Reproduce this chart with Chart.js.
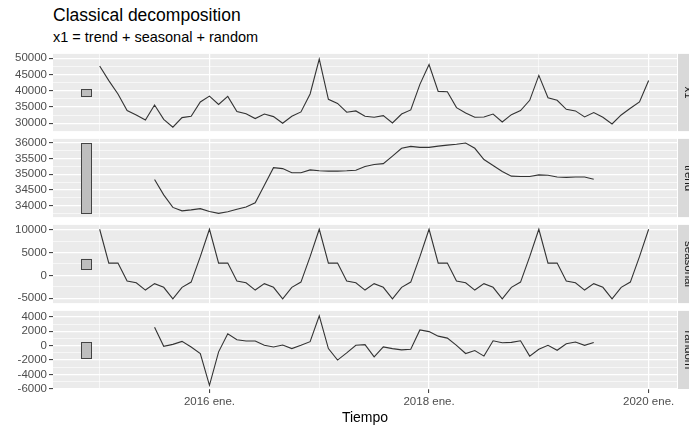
<!DOCTYPE html>
<html>
<head>
<meta charset="utf-8">
<script src="https://cdn.jsdelivr.net/npm/chart.js@4.4.1/dist/chart.umd.min.js"></script>
<style>
    body { margin: 0; width: 689px; height: 427px; background: #fff; position: relative; overflow: hidden;
           font-family: "Liberation Sans", Arial, sans-serif; }
    .txt { position: absolute; left: 53px; white-space: nowrap; color: #000; }
    #title { top: 5px; font-size: 17.5px; }
    #subtitle { top: 29px; font-size: 14.5px; }
    canvas { position: absolute; left: 0; }
</style>
</head>
<body>
<div id="title" class="txt">Classical decomposition</div>
<div id="subtitle" class="txt">x1 = trend + seasonal + random</div>
<canvas id="c-x1"></canvas>
<canvas id="c-trend"></canvas>
<canvas id="c-seasonal"></canvas>
<canvas id="c-random"></canvas>
<script>
// =============================================
// Classical decomposition — monthly series, Jan 2015 .. Jan 2020
// x value = months since 2015 ene.
// =============================================

const x1Values = [
    47600, 43100, 39000, 33900, 32550, 31000, 35600, 31200, 28800, 31750, 32150, 36550,
    38350, 35800, 38250, 33600, 32950, 31450, 32850, 32050, 30000, 32150, 33500, 39000,
    49700, 37350, 36100, 33400, 33800, 32150, 31850, 32350, 30100, 32850, 34100, 41950,
    48050, 39800, 39700, 34800, 33150, 31850, 31950, 32850, 30400, 32650, 33900, 37050,
    44700, 37850, 37050, 34300, 33800, 31950, 33300, 31850, 29800, 32550, 34600, 36550,
    43150,
];

const trendValues = [
    null, null, null, null, null, null, 34830, 34340, 33940, 33830, 33860, 33900,
    33810, 33750, 33800, 33880, 33950, 34090, 34650, 35210, 35180, 35050, 35050, 35140,
    35110, 35100, 35100, 35110, 35130, 35250, 35310, 35340, 35580, 35830, 35890, 35860,
    35860, 35900, 35930, 35960, 36000, 35830, 35470, 35280, 35090, 34940, 34930, 34930,
    34980, 34970, 34910, 34900, 34910, 34910, 34840, null, null, null, null, null,
    null,
];

const seasonalValues = [
    10100, 2700, 2700, -1200, -1600, -3200, -1800, -2600, -5100, -2600, -1450, 4100,
    10100, 2700, 2700, -1200, -1600, -3200, -1800, -2600, -5100, -2600, -1450, 4100,
    10100, 2700, 2700, -1200, -1600, -3200, -1800, -2600, -5100, -2600, -1450, 4100,
    10100, 2700, 2700, -1200, -1600, -3200, -1800, -2600, -5100, -2600, -1450, 4100,
    10100, 2700, 2700, -1200, -1600, -3200, -1800, -2600, -5100, -2600, -1450, 4100,
    10100,
];

const randomValues = [
    null, null, null, null, null, null, 2550, -90, 180, 590, -180, -1090,
    -5500, -860, 1640, 820, 640, 640, 50, -180, 90, -410, 50, 550,
    4140, -410, -2000, -1000, 50, 140, -1550, -180, -410, -590, -500, 2180,
    1950, 1320, 1050, 50, -1090, -680, -1450, 680, 410, 450, 680, -1450,
    -500, 50, -640, 270, 500, 50, 450, null, null, null, null, null,
    null,
];

// y axis ticks (major labelled, minor halfway between)
const x1Ticks = [30000, 35000, 40000, 45000, 50000];
const trendTicks = [34000, 34500, 35000, 35500, 36000];
const seasonalTicks = [-5000, 0, 5000, 10000];
const randomTicks = [-6000, -4000, -2000, 0, 2000, 4000];

// x axis ticks
const xTickValues = [0, 12, 24, 36, 48, 60];
const xTickLabels = ["", "2016 ene.", "", "2018 ene.", "", "2020 ene."];

// range bars drawn left of each panel (same height = trend range)
const barXRange = [-2.0, -0.9];

const X_MIN = -5.1, X_MAX = 63.1;
const CANVAS_W = 689;
const PAD = 8;
const TICK_FONT = { family: "'Liberation Sans', Arial, sans-serif", size: 11.5 };
const TICK_COLOR = "#4D4D4D";

const panels = [
    { id: "c-x1", label: "x1", values: x1Values, ticks: x1Ticks, min: 27600, max: 51300, top: 53, bottom: 132 },
    { id: "c-trend", label: "trend", values: trendValues, ticks: trendTicks, min: 33630, max: 36130, top: 138, bottom: 218 },
    { id: "c-seasonal", label: "seasonal", values: seasonalValues, ticks: seasonalTicks, min: -6050, max: 11050, top: 224, bottom: 304 },
    { id: "c-random", label: "random", values: randomValues, ticks: randomTicks, min: -6010, max: 4820, top: 310, bottom: 389, last: true },
];

function _range(vals) {
    const v = vals.filter(x => x !== null);
    return [Math.min(...v), Math.max(...v)];
}
const [trMin, trMax] = _range(trendValues);
const barHeight = trMax - trMin;

function _allTicks(major, min, max) {
    const step = major[1] - major[0];
    const out = [];
    for (let v = major[0] - step / 2; v <= major[major.length - 1] + step / 2 + 1e-6; v += step / 2) {
        if (v >= min && v <= max) out.push(v);
    }
    return out;
}

const panelDecor = {
    id: "panelDecor",
    beforeDraw(chart, args, opts) {
        const { ctx, chartArea: a } = chart;
        ctx.save();
        ctx.fillStyle = "#EBEBEB";
        ctx.fillRect(a.left, a.top, a.right - a.left, a.bottom - a.top);
        ctx.restore();
    },
    afterDatasetsDraw(chart, args, opts) {
        const { ctx, scales: { x, y } } = chart;
        const [lo, hi] = _range(opts.values);
        const mid = (lo + hi) / 2;
        const x0 = x.getPixelForValue(barXRange[0]);
        const x1 = x.getPixelForValue(barXRange[1]);
        const y0 = y.getPixelForValue(mid + barHeight / 2);
        const y1 = y.getPixelForValue(mid - barHeight / 2);
        ctx.save();
        ctx.fillStyle = "#BEBEBE";
        ctx.strokeStyle = "#444";
        ctx.lineWidth = 1;
        ctx.fillRect(x0, y0, x1 - x0, y1 - y0);
        ctx.strokeRect(Math.round(x0) + 0.5, Math.round(y0) + 0.5, Math.round(x1 - x0), Math.round(y1 - y0));
        ctx.restore();
    },
    afterDraw(chart, args, opts) {
        const { ctx, chartArea: a } = chart;
        ctx.save();
        ctx.fillStyle = "#D9D9D9";
        ctx.fillRect(a.right + 1, a.top, CANVAS_W - a.right, a.bottom - a.top);
        ctx.translate(688, (a.top + a.bottom) / 2);
        ctx.rotate(Math.PI / 2);
        ctx.fillStyle = "#1A1A1A";
        ctx.font = "11.5px 'Liberation Sans', Arial, sans-serif";
        ctx.textAlign = "center";
        ctx.textBaseline = "middle";
        ctx.fillText(opts.label, 0, 0);
        ctx.restore();
    },
};

function _panel(p) {
    const canvas = document.getElementById(p.id);
    const canvasTop = p.top - PAD;
    const canvasH = p.last ? 427 - canvasTop : (p.bottom - p.top) + 2 * PAD;
    canvas.width = CANVAS_W;
    canvas.height = canvasH;
    canvas.style.top = canvasTop + "px";
    canvas.style.width = CANVAS_W + "px";
    canvas.style.height = canvasH + "px";

    const majorSet = new Set(p.ticks);
    const yTicks = _allTicks(p.ticks, p.min, p.max);
    const xMajor = new Set(xTickValues.filter((_, i) => xTickLabels[i] !== ""));

    return new Chart(canvas, {
        type: "line",
        data: {
            datasets: [{
                data: p.values.map((v, i) => ({ x: i, y: v })),
                borderColor: "#333",
                borderWidth: 1.1,
                pointRadius: 0,
                tension: 0,
                spanGaps: false,
            }],
        },
        options: {
            responsive: false,
            animation: false,
            layout: { padding: { left: 0, right: CANVAS_W - 677, top: PAD, bottom: p.last ? 0 : PAD } },
            plugins: {
                legend: { display: false },
                tooltip: { enabled: false },
                panelDecor: { label: p.label, values: p.values },
            },
            scales: {
                x: {
                    type: "linear",
                    min: X_MIN,
                    max: X_MAX,
                    afterBuildTicks: s => { s.ticks = xTickValues.map(v => ({ value: v })); },
                    afterFit: s => { s.height = p.last ? 427 - p.bottom : 0; },
                    border: { display: false },
                    grid: {
                        color: "#FFFFFF",
                        lineWidth: c => (c.tick && xMajor.has(c.tick.value)) ? 1.2 : 0.6,
                        drawTicks: !!p.last,
                        tickLength: 4,
                        tickColor: c => (c.tick && xMajor.has(c.tick.value)) ? "#333" : "rgba(0,0,0,0)",
                        tickWidth: 1,
                    },
                    ticks: {
                        display: !!p.last,
                        autoSkip: false,
                        maxRotation: 0,
                        padding: 2,
                        color: TICK_COLOR,
                        font: TICK_FONT,
                        callback: (v) => xTickLabels[xTickValues.indexOf(v)] || "",
                    },
                    title: {
                        display: !!p.last,
                        text: "Tiempo",
                        color: "#000",
                        font: { family: "'Liberation Sans', Arial, sans-serif", size: 14 },
                        padding: { top: 0, bottom: 0 },
                    },
                },
                y: {
                    type: "linear",
                    min: p.min,
                    max: p.max,
                    afterBuildTicks: s => { s.ticks = yTicks.map(v => ({ value: v })); },
                    afterFit: s => { s.width = 53; },
                    border: { display: false },
                    grid: {
                        color: "#FFFFFF",
                        lineWidth: c => (c.tick && majorSet.has(c.tick.value)) ? 1.2 : 0.6,
                        tickLength: 4,
                        tickColor: c => (c.tick && majorSet.has(c.tick.value)) ? "#333" : "rgba(0,0,0,0)",
                        tickWidth: 1,
                    },
                    ticks: {
                        autoSkip: false,
                        padding: 2,
                        color: TICK_COLOR,
                        font: TICK_FONT,
                        callback: v => majorSet.has(v) ? String(v) : "",
                    },
                },
            },
        },
        plugins: [panelDecor],
    });
}

panels.forEach(_panel);
</script>
</body>
</html>
